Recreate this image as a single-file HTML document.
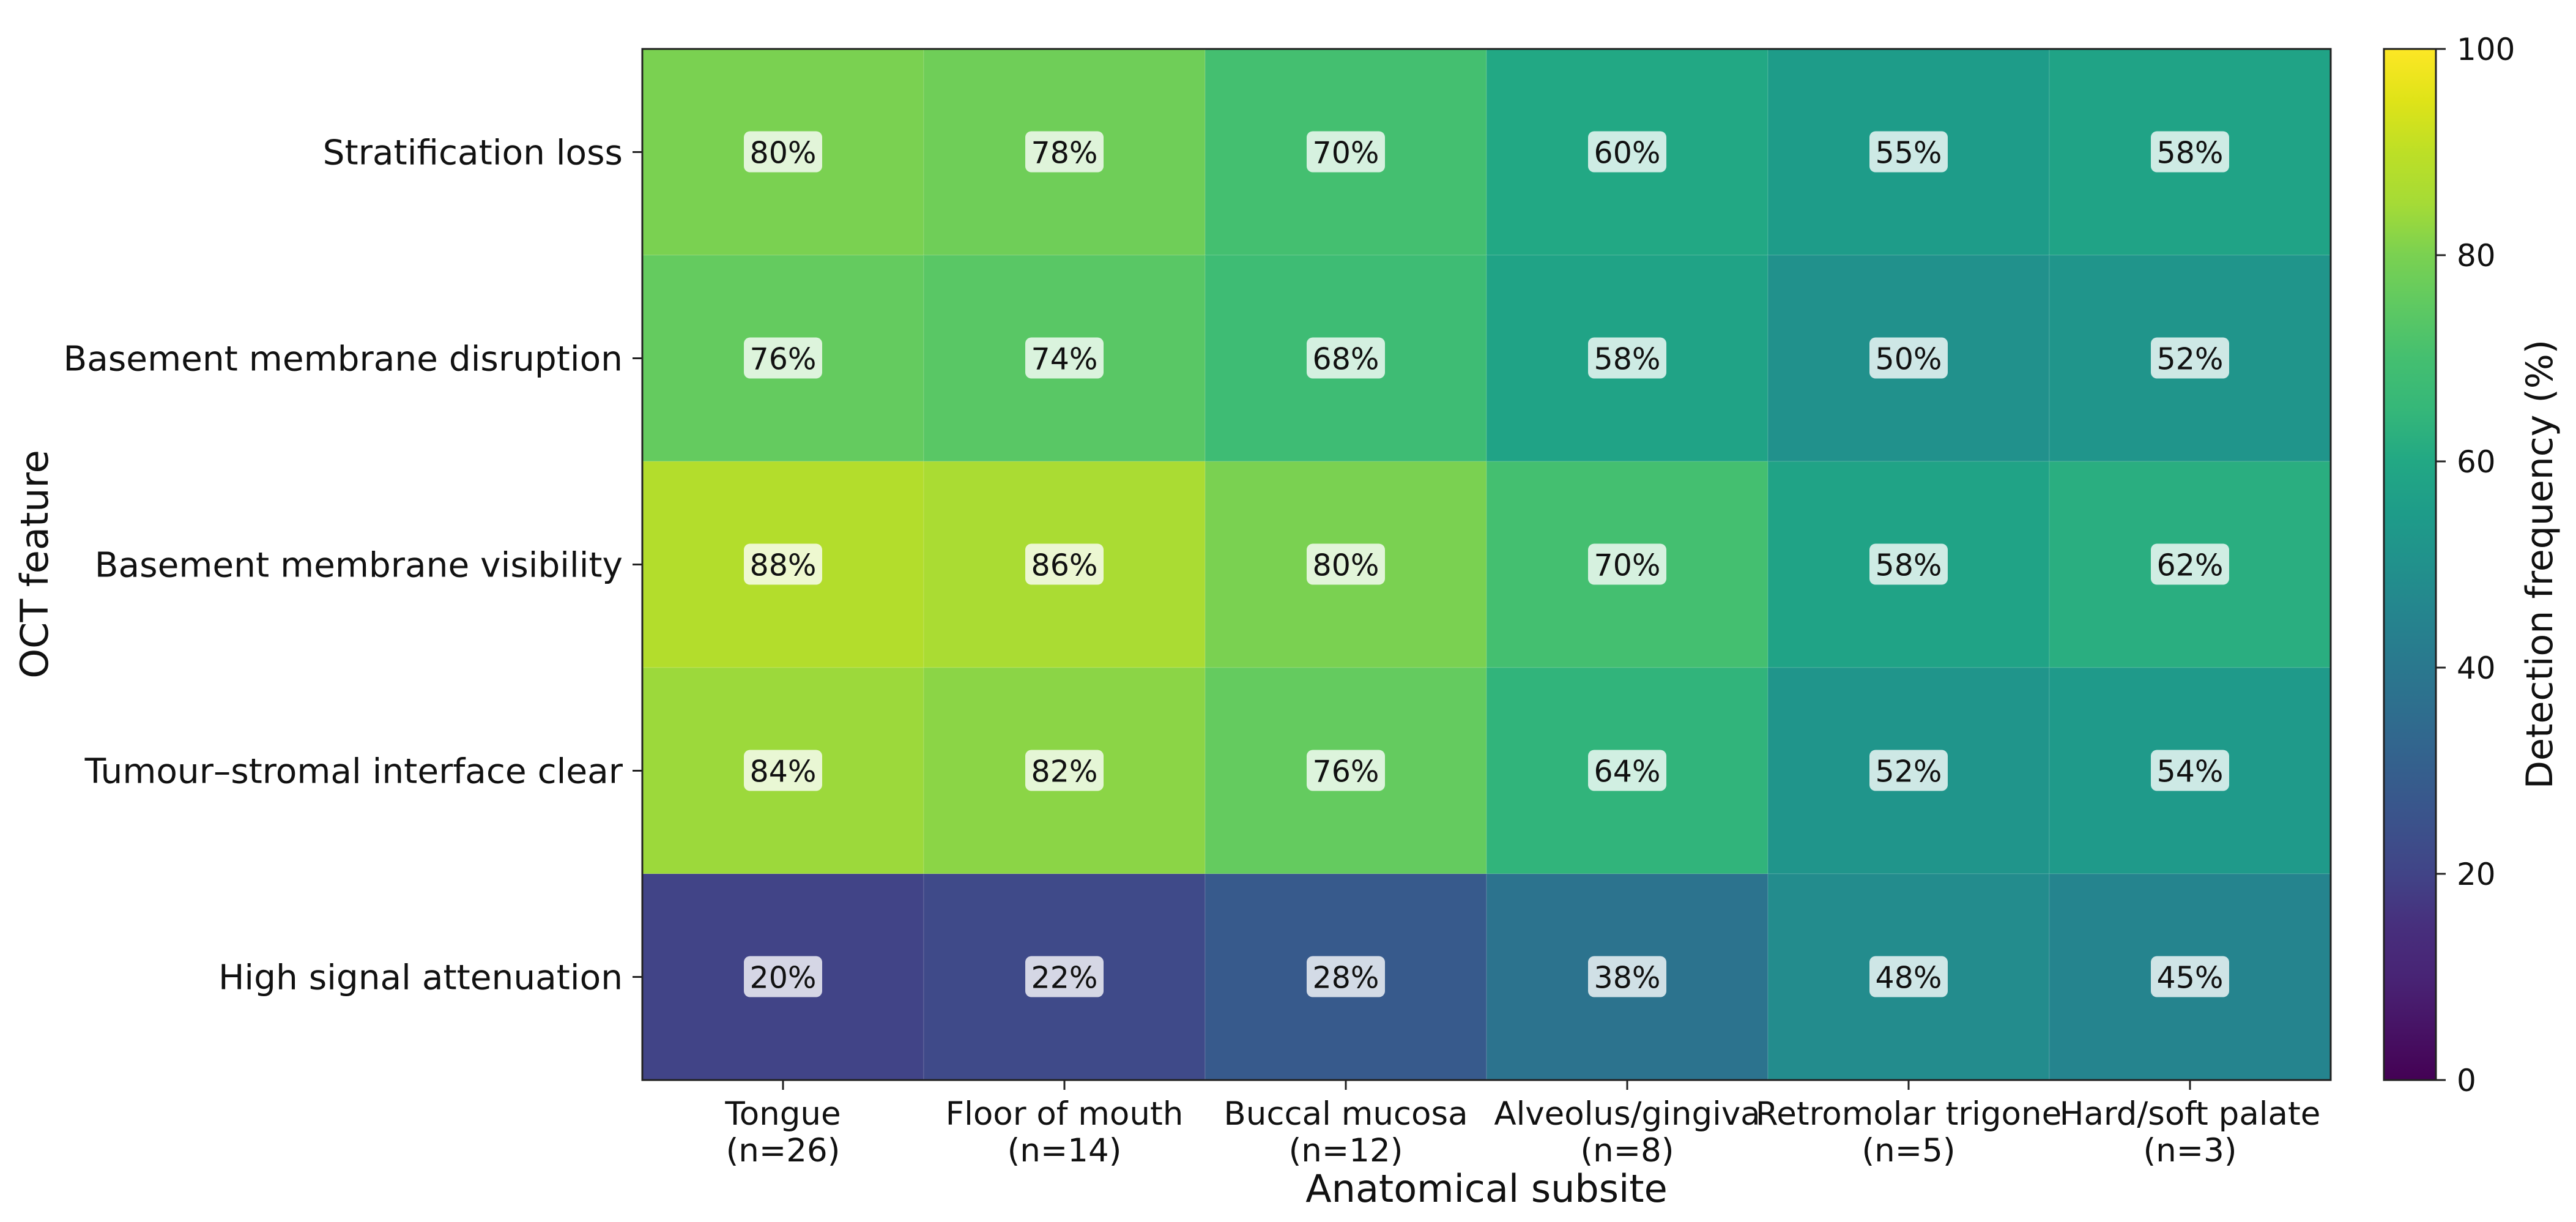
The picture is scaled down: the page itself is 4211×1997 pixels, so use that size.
<!DOCTYPE html>
<html><head><meta charset="utf-8">
<style>
html,body{margin:0;padding:0;background:#fff;}
svg{display:block;font-family:"DejaVu Sans","Liberation Sans",sans-serif;}
</style></head>
<body>
<svg id="chart" width="4211" height="1997" viewBox="0 0 4211 1997" xmlns="http://www.w3.org/2000/svg">
<defs>
<linearGradient id="vir" x1="0" y1="1" x2="0" y2="0"></linearGradient>
</defs>
<g id="cells"></g>
<g id="annots"></g>
<rect x="1050" y="80" width="2760" height="1685" fill="none" stroke="#222" stroke-width="3"/>
<g id="xticks"></g>
<g id="yticks"></g>
<text x="2430" y="1964" font-size="62" text-anchor="middle" fill="#111">Anatomical subsite</text>
<text transform="translate(78,922) rotate(-90)" font-size="62" text-anchor="middle" fill="#111">OCT feature</text>
<rect x="3897" y="80" width="85" height="1685" fill="url(#vir)" stroke="#222" stroke-width="3"/>
<g id="cbticks"></g>
<text transform="translate(4172,922) rotate(-90)" font-size="60" text-anchor="middle" fill="#111">Detection frequency (%)</text>
</svg>
<script>
const categories = ["Tongue\n(n=26)","Floor of mouth\n(n=14)","Buccal mucosa\n(n=12)","Alveolus/gingiva\n(n=8)","Retromolar trigone\n(n=5)","Hard/soft palate\n(n=3)"];
const features = ["Stratification loss","Basement membrane disruption","Basement membrane visibility","Tumour\u2013stromal interface clear","High signal attenuation"];
const rowStratification = [80,78,70,60,55,58];
const rowBMDisruption = [76,74,68,58,50,52];
const rowBMVisibility = [88,86,80,70,58,62];
const rowInterface = [84,82,76,64,52,54];
const rowAttenuation = [20,22,28,38,48,45];
const values = [rowStratification,rowBMDisruption,rowBMVisibility,rowInterface,rowAttenuation];
const cbTicks = [0,20,40,60,80,100];

const NS="http://www.w3.org/2000/svg";
const X0=1050,X1=3810,Y0=80,Y1=1765;
const cw=(X1-X0)/categories.length, rh=(Y1-Y0)/features.length;
function xCol(i){return X0+i*cw;}
function yRow(j){return Y0+j*rh;}
function yCb(v){return Y1-(v/100)*(Y1-Y0);}
const vstops=["#440154","#471365","#482475","#472f7d","#414487","#3b528b","#355f8d","#2f6c8e","#2a788e","#25848e","#21918c","#1e9c89","#22a884","#35b779","#44bf70","#5ec962","#7ad151","#a5db36","#bddf26","#dfe318","#fde725"];
function hex(h){return [parseInt(h.substr(1,2),16),parseInt(h.substr(3,2),16),parseInt(h.substr(5,2),16)];}
function viridis(t){t=Math.max(0,Math.min(1,t));const p=t*(vstops.length-1);const i=Math.min(vstops.length-2,Math.floor(p));const f=p-i;const a=hex(vstops[i]),b=hex(vstops[i+1]);return "rgb("+a.map((c,k)=>Math.round(c+(b[k]-c)*f)).join(",")+")";}
function mk(tag,attrs,parent){const e=document.createElementNS(NS,tag);for(const k in attrs)e.setAttribute(k,attrs[k]);parent.appendChild(e);return e;}

const grad=document.getElementById('vir');
vstops.forEach((c,i)=>mk('stop',{offset:(i/(vstops.length-1)),'stop-color':c},grad));

const cells=document.getElementById('cells'), ann=document.getElementById('annots');
values.forEach((row,j)=>{row.forEach((v,i)=>{
  const r=mk('rect',{x:xCol(i),y:yRow(j),width:cw,height:rh,fill:viridis(v/100),stroke:'rgba(255,255,255,0.08)','stroke-width':2},cells);
  
  
  const cx=xCol(i)+cw/2, cy=yRow(j)+rh/2;
  const b=mk('rect',{x:cx-64,y:cy-34,width:128,height:67,rx:10,fill:'rgba(255,255,255,0.78)'},ann);
  
  
  const t=mk('text',{x:cx,y:cy+18,'font-size':49,'text-anchor':'middle',fill:'#111'},ann);
  
  
  t.textContent=v+"%";
});});

const xt=document.getElementById('xticks');
categories.forEach((c,i)=>{
  const cx=xCol(i)+cw/2;
  const l=mk('line',{x1:cx,y1:Y1,x2:cx,y2:Y1+16,stroke:'#222','stroke-width':3},xt);
  
  
  const parts=c.split("\n");
  parts.forEach((p,k)=>{
    const t=mk('text',{x:cx,y:1838+k*60,'font-size':53,'text-anchor':'middle',fill:'#111'},xt);
    
    
    t.textContent=p;
  });
});
const yt=document.getElementById('yticks');
features.forEach((f,j)=>{
  const cy=yRow(j)+rh/2;
  const l=mk('line',{x1:X0-16,y1:cy,x2:X0,y2:cy,stroke:'#222','stroke-width':3},yt);
  
  
  const t=mk('text',{x:1018,y:cy+20,'font-size':56.5,'text-anchor':'end',fill:'#111'},yt);
  
  
  t.textContent=f;
});
const cb=document.getElementById('cbticks');
cbTicks.forEach(v=>{
  const y=yCb(v);
  const l=mk('line',{x1:3982,y1:y,x2:3998,y2:y,stroke:'#222','stroke-width':3},cb);
  
  
  const t=mk('text',{x:4016,y:y+18,'font-size':50,fill:'#111'},cb);
  
  
  t.textContent=v;
});
</script>
</body></html>
